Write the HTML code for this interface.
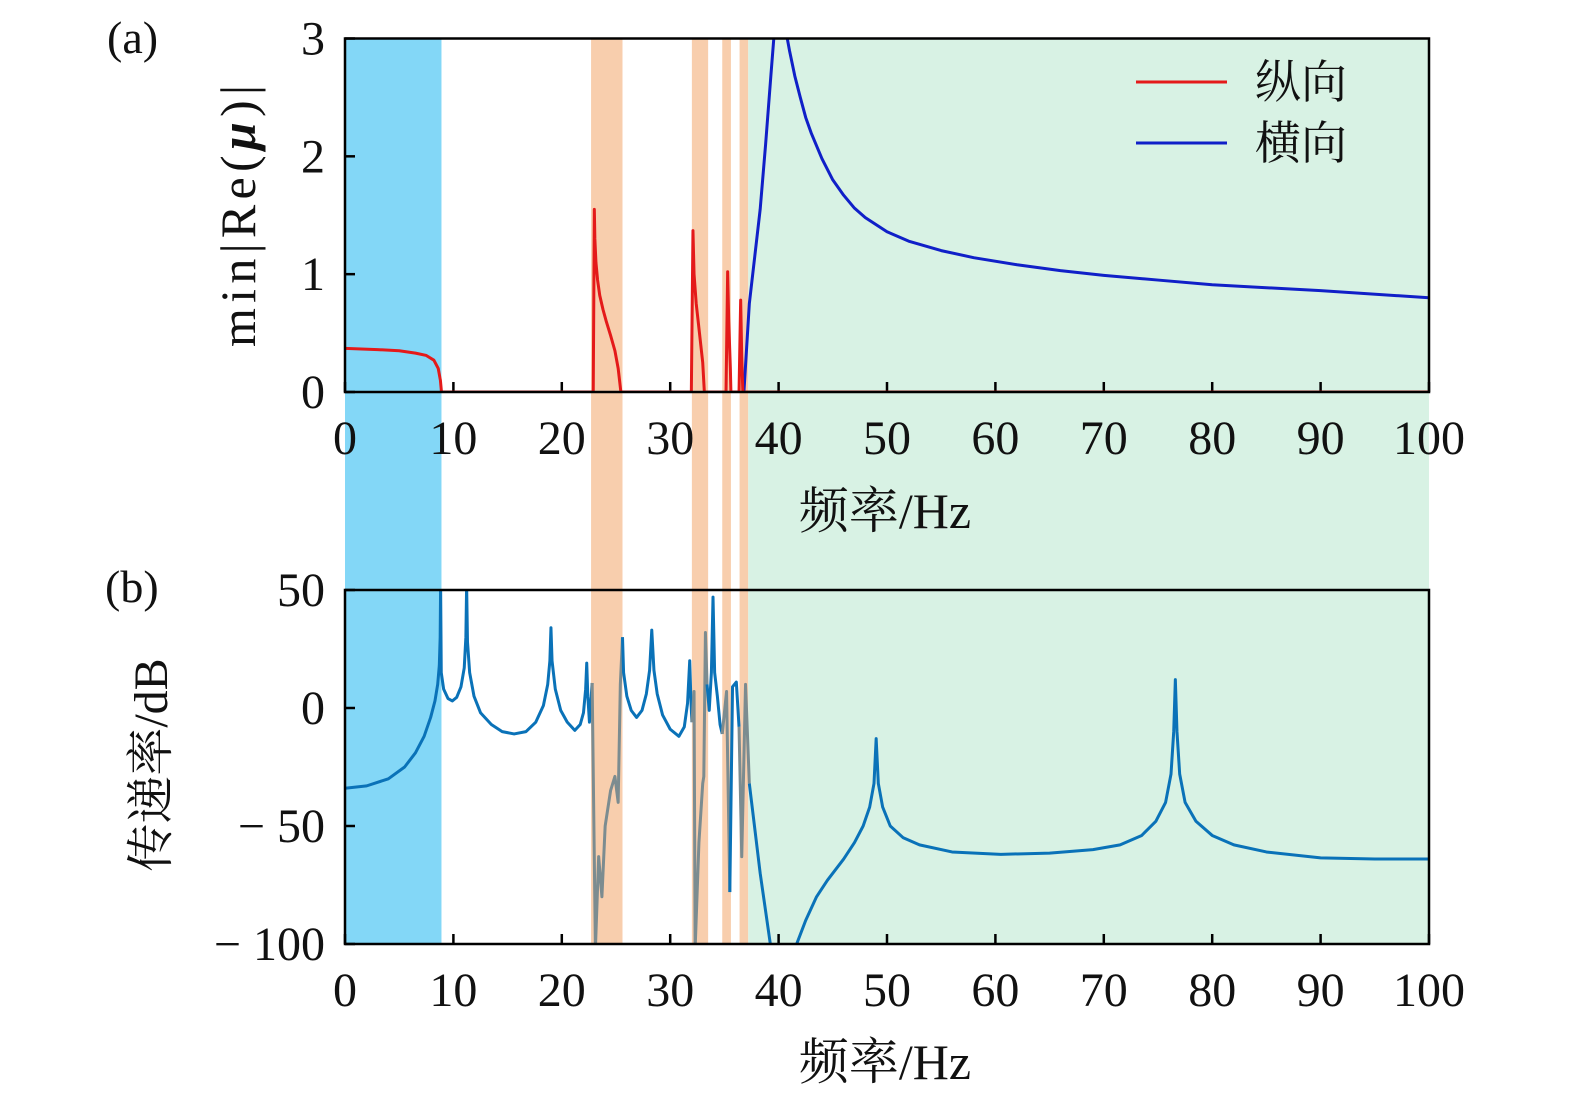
<!DOCTYPE html>
<html><head><meta charset="utf-8"><style>
html,body{margin:0;padding:0;background:#fff;overflow:hidden;width:1575px;height:1102px}
svg{display:block}
svg text{font-family:"Liberation Serif","Noto Serif CJK SC",serif;fill:#111}
</style></head><body>
<svg id="fig" width="1575" height="1102" viewBox="0 0 1575 1102" xmlns="http://www.w3.org/2000/svg">
<g id="bands"></g>
<g id="pa"></g>
<g id="pb"></g>
<text x="107" y="53" font-size="46">(a)</text>
<text x="105" y="602" font-size="46">(b)</text>
<text transform="translate(255,216) rotate(-90)" text-anchor="middle" font-size="50" textLength="262">min|Re(<tspan font-weight="bold" font-style="italic">μ</tspan>)|</text>
<text transform="translate(167,765) rotate(-90)" text-anchor="middle" font-size="48">传递率/dB</text>
<text x="885" y="528" text-anchor="middle" font-size="50">频率/Hz</text>
<text x="885" y="1079" text-anchor="middle" font-size="50">频率/Hz</text>
<g>
<line x1="1136" y1="82" x2="1227" y2="82" stroke="#e41a1a" stroke-width="3"/>
<text x="1255" y="98" font-size="46">纵向</text>
<line x1="1136" y1="143" x2="1227" y2="143" stroke="#1020c8" stroke-width="3"/>
<text x="1255" y="159" font-size="46">横向</text>
</g>
</svg>
<script>
const xTicks=[0,10,20,30,40,50,60,70,80,90,100];
const yTicksA=[0,1,2,3];
const yTicksB=[50,0,-50,-100];
const yTickLabelsB=["50","0","− 50","− 100"];
const blueBand=[0,8.9];
const orangeBands=[[22.7,25.6],[32.0,33.5],[34.8,35.6],[36.4,37.2]];
const greenBand=[37.2,100];
const redA=[[0,0.37],[3,0.36],[5,0.35],[6.5,0.33],[7.5,0.31],[8.2,0.27],[8.6,0.2],[8.8,0.1],[8.9,0],[22.9,0],[23.0,1.55],[23.05,1.3],[23.15,1.1],[23.3,0.95],[23.5,0.82],[23.8,0.7],[24.1,0.6],[24.5,0.48],[24.9,0.35],[25.2,0.2],[25.35,0.08],[25.45,0],[31.95,0],[32.1,1.37],[32.2,1.0],[32.4,0.75],[32.7,0.5],[33.0,0.25],[33.15,0],[35.15,0],[35.3,1.02],[35.4,0.6],[35.55,0.2],[35.6,0],[36.35,0],[36.5,0.78],[36.6,0.3],[36.7,0],[100,0]];
const blueA=[[36.8,0],[37.3,0.75],[37.8,1.15],[38.3,1.55],[38.8,2.1],[39.3,2.7],[39.6,3.05],[40.5,3.1],[40.8,3.0],[41,2.9],[41.5,2.68],[42,2.5],[42.5,2.33],[43,2.2],[44,1.98],[45,1.8],[46,1.67],[47,1.56],[48,1.48],[50,1.36],[52,1.28],[55,1.2],[58,1.14],[62,1.08],[66,1.03],[70,0.99],[75,0.95],[80,0.91],[90,0.86],[100,0.8]];
const transB=[[0,-34],[2,-33],[4,-30],[5.5,-25],[6.5,-19],[7.3,-12],[7.9,-4],[8.3,3],[8.55,10],[8.7,18],[8.78,30],[8.82,52],[8.88,15],[9.1,8],[9.5,4],[9.9,3],[10.3,4.5],[10.7,9],[11.0,17],[11.15,30],[11.22,52],[11.3,28],[11.5,15],[11.9,5],[12.5,-2],[13.5,-7],[14.5,-10],[15.6,-11],[16.7,-10],[17.6,-6],[18.3,1],[18.7,10],[18.9,20],[19.0,34],[19.1,20],[19.4,8],[19.9,-1],[20.5,-6],[21.2,-9.5],[21.7,-7],[22.0,-2],[22.2,8],[22.3,19],[22.4,5],[22.55,-6],[22.8,10.6],[23.1,-102],[23.4,-63],[23.7,-80],[24.0,-50],[24.5,-35],[24.9,-29],[25.2,-40],[25.4,10],[25.6,30],[25.7,15],[26.0,5],[26.4,-1],[26.9,-4],[27.4,-1],[27.8,6],[28.1,16],[28.3,33],[28.5,16],[28.8,6],[29.3,-3],[30,-9],[30.8,-12],[31.3,-8],[31.6,2],[31.8,20],[31.9,5],[32.0,-6],[32.2,7],[32.3,-102],[32.65,-57],[33.0,-32],[33.1,-29],[33.25,32],[33.4,10],[33.6,-1],[33.8,15],[33.95,47],[34.1,15],[34.35,5],[34.6,-7],[34.8,-11],[35.2,7],[35.5,-78],[35.75,9],[36.1,11],[36.35,-8],[36.6,-63],[36.95,10],[37.3,-32],[38.3,-70],[39.3,-102],[41.5,-102],[42.5,-90],[43.5,-80],[44.5,-73],[46,-64],[47,-57],[47.8,-50],[48.4,-42],[48.8,-32],[49.0,-13],[49.2,-32],[49.6,-42],[50.3,-50],[51.5,-55],[53,-58],[56,-61],[60.5,-62],[65,-61.5],[69,-60],[71.5,-58],[73.5,-54],[74.8,-48],[75.7,-40],[76.2,-28],[76.45,-10],[76.6,12],[76.75,-10],[77.0,-28],[77.5,-40],[78.5,-48],[80,-54],[82,-58],[85,-61],[90,-63.5],[95,-64],[100,-64]];
const NS="http://www.w3.org/2000/svg";
const X0=345,X1=1429;
const AT=38.5,AB=392,BT=590,BB=944;
const xs=v=>X0+(v/100)*(X1-X0);
const yA=v=>AB-(v/3)*(AB-AT);
const yB=v=>BB-((v+100)/150)*(BB-BT);
function mk(tag,attrs,parent){const e=document.createElementNS(NS,tag);for(const k in attrs)e.setAttribute(k,attrs[k]);parent.appendChild(e);return e;}
const bands=document.getElementById('bands'),pa=document.getElementById('pa'),pb=document.getElementById('pb');
let r=mk('rect',{x:xs(blueBand[0]),y:AT,width:xs(blueBand[1])-xs(blueBand[0]),height:BB-AT,fill:'#83d7f7'},bands);


orangeBands.forEach(b=>{const e=mk('rect',{x:xs(b[0]),y:AT,width:xs(b[1])-xs(b[0]),height:BB-AT,fill:'#f8cead'},bands);

});
r=mk('rect',{x:xs(greenBand[0]),y:AT,width:xs(greenBand[1])-xs(greenBand[0]),height:BB-AT,fill:'#d8f2e4'},bands);


function axes(g,yTop,yBot,yt,yl,yf,prefix){
 const cp=mk('clipPath',{id:prefix+'clip'},g);mk('rect',{x:X0,y:yTop,width:X1-X0,height:yBot-yTop},cp);
 xTicks.forEach(t=>{const l=mk('line',{x1:xs(t),x2:xs(t),y1:yBot,y2:yBot-10,stroke:'#000','stroke-width':2.5},g);
 
 
 const tx=mk('text',{x:xs(t),y:yBot+62,'text-anchor':'middle','font-size':48},g);tx.textContent=t;
 
 });
 yt.forEach((t,i)=>{const l=mk('line',{x1:X0,x2:X0+10,y1:yf(t),y2:yf(t),stroke:'#000','stroke-width':2.5},g);
 
 
 const tx=mk('text',{x:325,y:yf(t)+16,'text-anchor':'end','font-size':48},g);tx.textContent=yl[i];
 
 });
}
function line(g,data,yf,color,clip,name){
 const p=mk('polyline',{points:data.map(d=>xs(d[0])+','+yf(d[1])).join(' '),fill:'none',stroke:color,'stroke-width':3,'stroke-linejoin':'round','clip-path':'url(#'+clip+')'},g);
 
 
}
axes(pa,AT,AB,yTicksA,yTicksA.map(String),yA,'a');
axes(pb,BT,BB,yTicksB,yTickLabelsB,yB,'b');
line(pa,blueA,yA,'#1020c8','aclip','transverse-curve');
line(pa,redA,yA,'#e41a1a','aclip','longitudinal-curve');
const inOr=f=>orangeBands.some(b=>f>b[0]&&f<b[1]);
let seg=[transB[0]],cur=null;
for(let i=1;i<transB.length;i++){const m=(transB[i-1][0]+transB[i][0])/2;const c=inOr(m)?'#7c8c90':'#0a72b8';
 if(cur&&c!==cur){line(pb,seg,yB,cur,'bclip','transmissibility-curve');seg=[transB[i-1]];}
 cur=c;seg.push(transB[i]);}
line(pb,seg,yB,cur,'bclip','transmissibility-curve');
[[AT,AB],[BT,BB]].forEach(([t,b])=>{const e=mk('rect',{x:X0,y:t,width:X1-X0,height:b-t,fill:'none',stroke:'#000','stroke-width':2.5},document.getElementById('fig'));

});
</script>
</body></html>
